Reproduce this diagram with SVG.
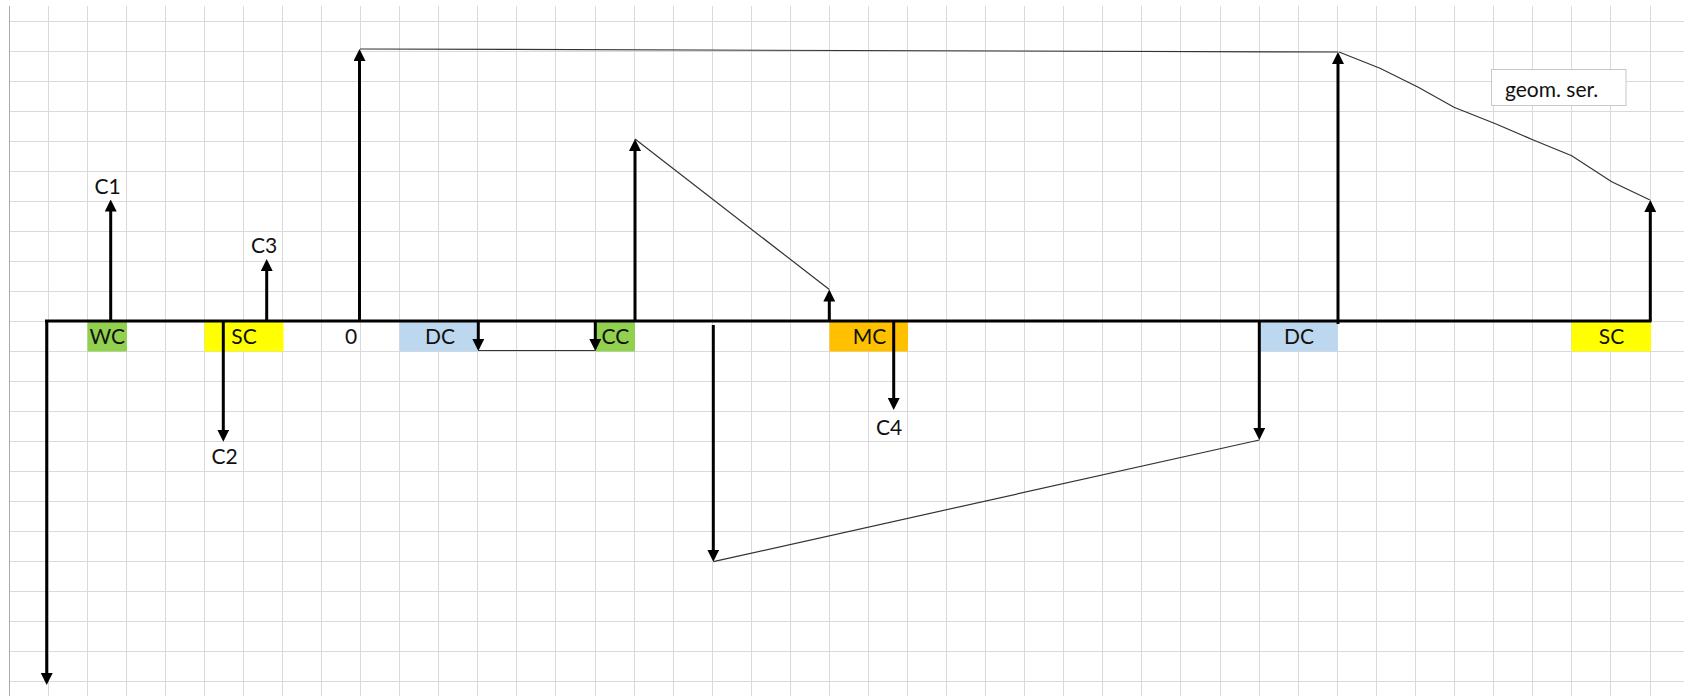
<svg xmlns="http://www.w3.org/2000/svg" width="1684" height="696" viewBox="0 0 1684 696">
<style>
.grid{fill:none;stroke:#dadada;stroke-width:1}
.border{fill:none;stroke:#a8a8a8;stroke-width:1}
.axis{fill:none;stroke:#000;stroke-width:3}
.arrow{fill:none;stroke:#000;stroke-width:3;marker-end:url(#ah)}
.thin{fill:none;stroke:#333;stroke-width:1.2}
.lbl{font-family:Lato,"Liberation Sans",sans-serif;font-size:21px;fill:#111;text-anchor:middle}
.green{fill:#92D050}.yellow{fill:#FFFF00}.blue{fill:#BDD7EE}.orange{fill:#FFC000}
</style>
<defs>
<marker id="ah" viewBox="0 0 12 12" markerWidth="12" markerHeight="12" refX="4" refY="6" orient="auto" markerUnits="userSpaceOnUse"><path d="M0,0 L12,6 L0,12 z" fill="#000"/></marker>
</defs>
<rect width="1684" height="696" fill="#fff"/>
<g id="grid">
<path class="grid" d="M48.5 6V696M87.5 6V696M126.5 6V696M165.5 6V696M204.5 6V696M243.5 6V696M282.5 6V696M321.5 6V696M360.5 6V696M399.5 6V696M438.5 6V696M477.5 6V696M516.5 6V696M555.5 6V696M595.5 6V696M634.5 6V696M673.5 6V696M712.5 6V696M751.5 6V696M790.5 6V696M829.5 6V696M868.5 6V696M907.5 6V696M946.5 6V696M985.5 6V696M1024.5 6V696M1063.5 6V696M1102.5 6V696M1141.5 6V696M1180.5 6V696M1220.5 6V696M1259.5 6V696M1298.5 6V696M1337.5 6V696M1376.5 6V696M1415.5 6V696M1454.5 6V696M1493.5 6V696M1532.5 6V696M1571.5 6V696M1610.5 6V696M1650.5 6V696"/>
<path class="grid" d="M9.5 21.5H1684M9.5 51.5H1684M9.5 81.5H1684M9.5 111.5H1684M9.5 141.5H1684M9.5 171.5H1684M9.5 201.5H1684M9.5 231.5H1684M9.5 261.5H1684M9.5 291.5H1684M9.5 321.5H1684M9.5 351.5H1684M9.5 381.5H1684M9.5 411.5H1684M9.5 441.5H1684M9.5 471.5H1684M9.5 501.5H1684M9.5 531.5H1684M9.5 561.5H1684M9.5 591.5H1684M9.5 621.5H1684M9.5 651.5H1684M9.5 681.5H1684"/>
<path class="border" d="M9.5 6V696"/>
</g>
<g id="cell-wc"><rect class="green" x="87.5" y="321" width="39.5" height="30.5"/><text class="lbl" x="107.3" y="344">WC</text></g>
<g id="cell-sc1"><rect class="yellow" x="204.5" y="321" width="79" height="30.5"/><text class="lbl" x="244" y="344">SC</text></g>
<g id="cell-zero"><text class="lbl" x="351" y="344">0</text></g>
<g id="cell-dc1"><rect class="blue" x="399.5" y="321" width="78.5" height="30.5"/><text class="lbl" x="440" y="344">DC</text></g>
<g id="cell-cc"><rect class="green" x="595.5" y="321" width="39.5" height="30.5"/><text class="lbl" x="615.5" y="344">CC</text></g>
<g id="cell-mc"><rect class="orange" x="829.5" y="321" width="78.5" height="30.5"/><text class="lbl" x="869.5" y="344">MC</text></g>
<g id="cell-dc2"><rect class="blue" x="1259.5" y="321" width="78.5" height="30.5"/><text class="lbl" x="1299" y="344">DC</text></g>
<g id="cell-sc2"><rect class="yellow" x="1571.5" y="321" width="79.5" height="30.5"/><text class="lbl" x="1611.5" y="344">SC</text></g>
<g id="label-c1"><text class="lbl" x="107.5" y="194">C1</text></g>
<g id="label-c2"><text class="lbl" x="224.5" y="464">C2</text></g>
<g id="label-c3"><text class="lbl" x="264" y="253">C3</text></g>
<g id="label-c4"><text class="lbl" x="889" y="435">C4</text></g>
<g id="geom-box"><rect x="1491.5" y="69.5" width="134.5" height="36" fill="#fff" stroke="#c8c8c8" stroke-width="1"/><text class="lbl" style="text-anchor:start" x="1505" y="97">geom. ser.</text></g>
<g id="connectors">
<line class="thin" x1="360" y1="49" x2="1338" y2="52"/>
<line class="thin" x1="478.3" y1="350.5" x2="595.3" y2="350.5"/>
<line class="thin" x1="635" y1="139" x2="829.3" y2="289.5"/>
<line class="thin" x1="713.3" y1="561.7" x2="1259.3" y2="440"/>
<polyline class="thin" points="1339,52 1380,68.3 1418.3,87.3 1454,107.3 1496.7,124.3 1533.3,140 1571.7,155.7 1611.7,181.7 1650,200"/>
<line class="axis" x1="45" y1="321" x2="1651.5" y2="321"/>
<line class="arrow" x1="46.7" y1="320" x2="46.7" y2="677"/>
<line class="arrow" x1="110.7" y1="321" x2="110.7" y2="207.5"/>
<line class="arrow" x1="223.3" y1="321" x2="223.3" y2="433.7"/>
<line class="arrow" x1="266.7" y1="321" x2="266.7" y2="267"/>
<line class="arrow" x1="359.5" y1="321" x2="359.5" y2="57"/>
<line class="arrow" x1="478.3" y1="321" x2="478.3" y2="343"/>
<line class="arrow" x1="595.3" y1="321" x2="595.3" y2="343"/>
<line class="arrow" x1="635" y1="321" x2="635" y2="147"/>
<line class="arrow" x1="713.3" y1="325" x2="713.3" y2="553.7"/>
<line class="arrow" x1="829.3" y1="321" x2="829.3" y2="297.5"/>
<line class="arrow" x1="893.7" y1="321" x2="893.7" y2="402"/>
<line class="arrow" x1="1259.3" y1="321" x2="1259.3" y2="432"/>
<line class="arrow" x1="1338" y1="324" x2="1338" y2="60"/>
<line class="arrow" x1="1650.3" y1="321" x2="1650.3" y2="208"/>
</g>
</svg>
